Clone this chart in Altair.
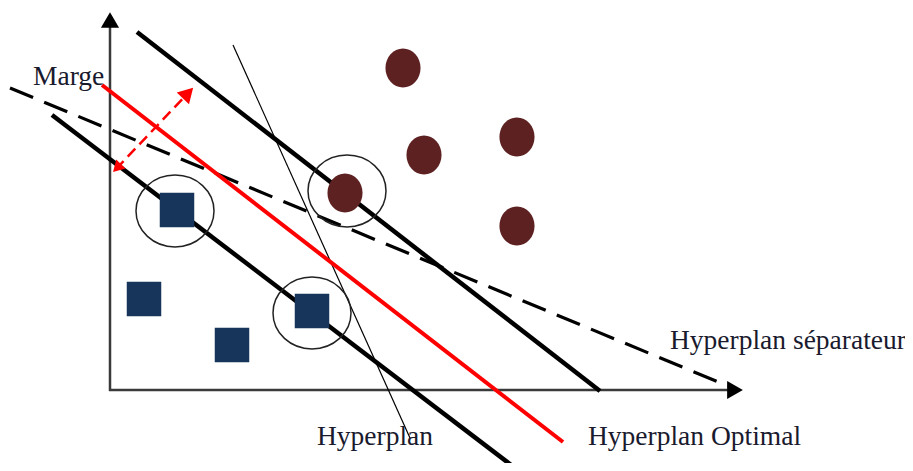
import altair as alt
import pandas as pd

# Frame of the drawing, in picture pixel units
X_DOMAIN = [8, 905]
Y_DOMAIN = [8, 463]

# Class -1 : squares (centres)
square_x = [177, 144, 232, 312]
square_y = [210, 299, 345, 311]

# Class +1 : dots (centres)
dot_x = [403, 424, 517, 517, 345]
dot_y = [68, 155, 137, 226, 193]

# Support vectors : rings (centres)
ring_x = [175, 312, 347]
ring_y = [211, 313, 191]

# Segments : [x1, y1, x2, y2]
margin_upper = [137, 32, 600, 391]
margin_lower = [52, 115, 515, 468]
optimal_line = [102, 85, 563, 442]
separator_line = [10, 88, 728, 386]
other_line = [233, 45, 410, 438]
marge_arrow = [116, 169, 190, 91]
axis_y_line = [110, 26, 110, 391]
axis_x_line = [109, 390, 728, 390]

# Arrow heads : x, y, angle
head_black_x = [110, 735]
head_black_y = [20, 390]
head_black_shape = ["triangle-up", "triangle-right"]
head_red_x = [188, 117]
head_red_y = [93, 168]
head_red_angle = [44, 224]
head_red_size = [290, 170]

# Labels
label_text = ["Marge", "Hyperplan", "Hyperplan Optimal", "Hyperplan séparateur"]
label_x = [33, 317, 588, 670]
label_y = [85, 445, 445, 349]

xs = alt.Scale(domain=X_DOMAIN, nice=False, zero=False)
ys = alt.Scale(domain=Y_DOMAIN, nice=False, zero=False, reverse=True)


def seg(s, color, width, dash=None):
    df = pd.DataFrame({"x": [s[0]], "y": [s[1]], "x2": [s[2]], "y2": [s[3]]})
    kw = dict(color=color, strokeWidth=width, strokeCap="butt")
    if dash:
        kw["strokeDash"] = dash
    return alt.Chart(df).mark_rule(**kw).encode(
        x=alt.X("x:Q", scale=xs, axis=None),
        y=alt.Y("y:Q", scale=ys, axis=None),
        x2="x2:Q",
        y2="y2:Q",
    )


layers = []
layers.append(seg(axis_y_line, "#3a3a3a", 2.5))
layers.append(seg(axis_x_line, "#3a3a3a", 2.5))

black_heads = pd.DataFrame({"x": head_black_x, "y": head_black_y, "shape": head_black_shape})
layers.append(
    alt.Chart(black_heads).mark_point(filled=True, opacity=1, color="black", size=330).encode(
        x=alt.X("x:Q", scale=xs, axis=None),
        y=alt.Y("y:Q", scale=ys, axis=None),
        shape=alt.Shape("shape:N", scale=None, legend=None),
    )
)

layers.append(seg(other_line, "black", 1.2))
layers.append(seg(separator_line, "black", 3.2, [25, 12]))
layers.append(seg(margin_upper, "black", 4.5))
layers.append(seg(margin_lower, "black", 4.5))
layers.append(seg(optimal_line, "#ff0000", 4))
layers.append(seg(marge_arrow, "#ff0000", 2.5, [11, 6]))

red_heads = pd.DataFrame({"x": head_red_x, "y": head_red_y, "a": head_red_angle, "s": head_red_size})
layers.append(
    alt.Chart(red_heads).mark_point(filled=True, opacity=1, color="#ff0000", shape="triangle-up").encode(
        x=alt.X("x:Q", scale=xs, axis=None),
        y=alt.Y("y:Q", scale=ys, axis=None),
        angle=alt.Angle("a:Q", scale=None),
        size=alt.Size("s:Q", scale=None, legend=None),
    )
)

squares = pd.DataFrame({"x": square_x, "y": square_y})
layers.append(
    alt.Chart(squares).mark_point(filled=True, opacity=1, shape="square", size=1190, color="#17345a").encode(
        x=alt.X("x:Q", scale=xs, axis=None),
        y=alt.Y("y:Q", scale=ys, axis=None),
    )
)

dots = pd.DataFrame({"x": dot_x, "y": dot_y})
layers.append(
    alt.Chart(dots).mark_point(
        filled=True, opacity=1, color="#5e2121", size=1521,
        shape="M-0.9,0A0.9,1,0,1,0,0.9,0A0.9,1,0,1,0,-0.9,0Z",
    ).encode(
        x=alt.X("x:Q", scale=xs, axis=None),
        y=alt.Y("y:Q", scale=ys, axis=None),
    )
)

rings = pd.DataFrame({"x": ring_x, "y": ring_y})
layers.append(
    alt.Chart(rings).mark_point(
        filled=False, opacity=1, color="#222222", strokeWidth=1.5, size=6084,
        shape="M-1,0A1,0.92,0,1,0,1,0A1,0.92,0,1,0,-1,0Z",
    ).encode(
        x=alt.X("x:Q", scale=xs, axis=None),
        y=alt.Y("y:Q", scale=ys, axis=None),
    )
)

labels = pd.DataFrame({"t": label_text, "x": label_x, "y": label_y})
layers.append(
    alt.Chart(labels).mark_text(
        align="left", baseline="alphabetic", font="Liberation Serif", fontSize=27.5, color="#1a1a2e",
    ).encode(
        x=alt.X("x:Q", scale=xs, axis=None),
        y=alt.Y("y:Q", scale=ys, axis=None),
        text="t:N",
    )
)

chart = alt.layer(*layers).properties(
    width=897, height=455, padding=0, autosize=alt.AutoSizeParams(type="none"),
    background="white",
).configure_view(stroke=None)

chart.save("out.html", embed_options={"renderer": "svg", "actions": False})
